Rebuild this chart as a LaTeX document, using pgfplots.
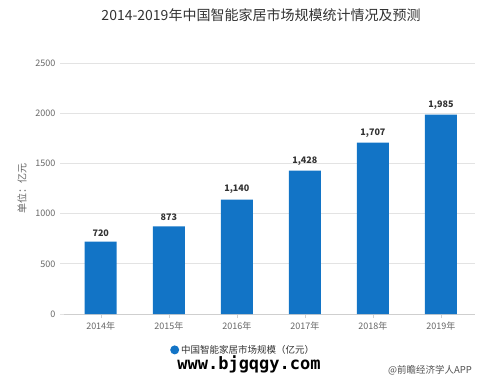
\documentclass[border=0pt]{standalone}
\usepackage{pgfplots}
\pgfplotsset{compat=1.18}
\usepackage{fontspec}
\setmainfont{Noto Sans CJK SC}
\newfontfamily\wmfont{DejaVu Sans Mono}
\definecolor{barblue}{HTML}{1274C6}
\definecolor{gridgray}{HTML}{E3E3E3}
\definecolor{ticktext}{HTML}{666666}
\definecolor{titletext}{HTML}{333333}
\begin{document}
\begin{tikzpicture}[x=1pt,y=1pt]
\path[use as bounding box] (0,0) rectangle (500,381);
\begin{axis}[
  at={(64pt,67pt)}, anchor=south west,
  scale only axis, width=411pt, height=251pt,
  xmin=-0.54, xmax=5.5, ymin=0, ymax=2500,
  ybar, bar width=32pt,
  xtick={0,1,2,3,4,5},
  xticklabels={2014年,2015年,2016年,2017年,2018年,2019年},
  ytick={0,500,1000,1500,2000,2500},
  /pgf/number format/assume math mode=true,
  /pgf/number format/1000 sep={},
  tick label style={font=\fontsize{9}{10}\selectfont, text=ticktext},
  axis x line*=bottom, axis y line*=left,
  x axis line style={draw=gridgray!80!gray},
  y axis line style={draw=none},
  tick align=outside, major tick length=4pt,
  xtick style={draw=gridgray!80!gray},
  ytick style={draw=gridgray, line width=0.8pt},
  ymajorgrids, grid style={draw=gridgray, line width=0.8pt},
  yticklabel style={xshift=-1pt},
  ylabel={单位：亿元},
  ylabel style={at={(axis description cs:-0.102,0.5)}, anchor=center, font=\fontsize{10}{11}\selectfont, text=ticktext},
  nodes near coords={\pgfmathprintnumber[1000 sep={,}]{\pgfplotspointmeta}},
  nodes near coords style={font=\bfseries\fontsize{9}{10}\selectfont, text=titletext, yshift=2pt},
  legend style={at={(axis description cs:0.436,-0.143)}, anchor=center, draw=none, font=\fontsize{9.5}{11}\selectfont, text=titletext},
  legend image code/.code={\fill[barblue] (0.25em,0) circle (4.5pt);},
  clip=false,
]
\addplot[fill=barblue, draw=none] coordinates {(0,720) (1,873) (2,1140) (3,1428) (4,1707) (5,1985)};
\addlegendentry{中国智能家居市场规模（亿元）}
\end{axis}
\node[font=\fontsize{14}{16}\selectfont, text=titletext] at (261,366) {2014-2019年中国智能家居市场规模统计情况及预测};
\node[fill=white, inner sep=1pt, font=\wmfont\bfseries\fontsize{17}{18}\selectfont, text=black] at (249,17) {www.bjgqgy.com};
\node[font=\fontsize{9.5}{11}\selectfont, text=titletext!85!white] at (430,11) {@前瞻经济学人APP};
\end{tikzpicture}
\end{document}
